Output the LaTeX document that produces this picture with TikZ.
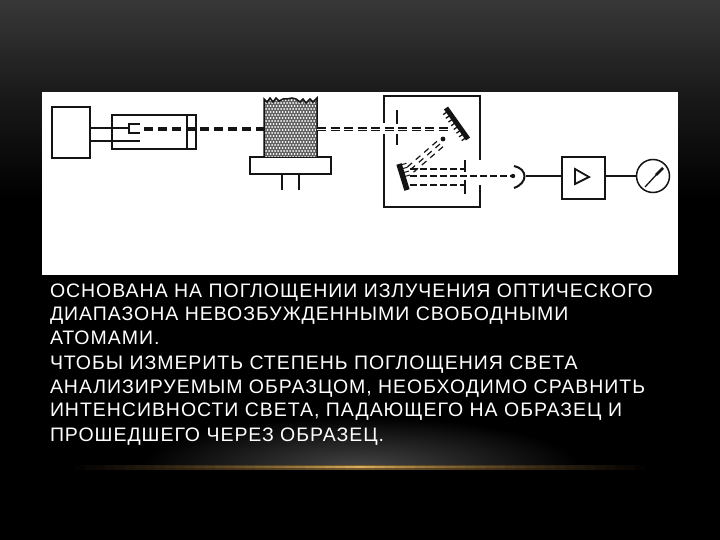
\documentclass[tikz,border=0pt]{standalone}
\usepackage{fontspec}
\setmainfont{Liberation Sans}
\newfontfamily\slidefont[LetterSpace=5]{Liberation Sans}
\usetikzlibrary{calc}
\definecolor{ink}{HTML}{141414}
\definecolor{topgrey}{HTML}{383838}
\definecolor{midgrey}{HTML}{1A1A1A}
\definecolor{glowgrey}{HTML}{444444}
\definecolor{goldbright}{HTML}{D8B060}
\definecolor{goldsoft}{HTML}{7A5A2C}
\tikzset{
  x=1pt,y=-1pt,
  every node/.style={inner sep=0pt,outer sep=0pt},
  wire/.style={draw=ink,line width=1.4pt},
  unitbox/.style={draw=ink,line width=1.5pt,fill=white,anchor=north west},
  beamA/.style={draw=ink,line width=3.4pt,dash pattern=on 9pt off 5pt},
  beamB/.style={draw=ink,line width=3.8pt,dash pattern=on 9pt off 4.5pt},
  beamC/.style={draw=ink,line width=1.2pt,dash pattern=on 7pt off 3pt},
  slitbar/.style={draw=ink,line width=1.8pt},
  txt/.style={anchor=base west,text=white,font=\slidefont\fontsize{19.5}{22}\selectfont},
}
\begin{document}
\begin{tikzpicture}
\useasboundingbox (0,0) rectangle (720,540);
% background
\fill[black] (0,0) rectangle (720,540);
\shade[top color=topgrey,bottom color=midgrey] (0,0) rectangle (720,92);
\shade[top color=midgrey,bottom color=black] (0,92) rectangle (720,200);
\begin{scope}
\clip (0,400) rectangle (720,466);
\shade[inner color=glowgrey,outer color=black] (360,467) ellipse (220 and 50);
\end{scope}
% gold line: solid-colour segments, strength falling away from the middle
\foreach \i in {-29,...,29}{
  \pgfmathsetmacro{\fa}{round(100*max(0,1-abs(\i)/29))}
  \pgfmathsetmacro{\fb}{round(100*max(0,1-abs(\i)/25))}
  \fill[goldsoft!\fa!black] ({360+\i*10-5.2},464.5) rectangle ({360+\i*10+5.2},469.5);
  \fill[goldbright!\fb!goldsoft!\fa!black] ({360+\i*10-5.2},466) rectangle ({360+\i*10+5.2},468.2);
}
% white panel
\fill[white] (42,92) rectangle (678,275);
% units
\node[unitbox,minimum width=38pt,minimum height=51pt] (source) at (52,107) {};
\node[unitbox,minimum width=84pt,minimum height=34pt] (lamp) at (112,115) {};
\node[unitbox,minimum width=81pt,minimum height=17pt] (burner) at (250,157) {};
\node[unitbox,minimum width=43pt,minimum height=42pt] (amp) at (562,157) {};
\node[draw=ink,line width=1.5pt,circle,minimum size=33pt,fill=white] (meter) at (653,176) {};
% lamp details
\draw[ink,line width=2pt] (187,115) -- (187,149);
\draw[ink,line width=1.8pt] (140,124) -- (129,124) -- (129,133) -- (140,133);
\coordinate (cathode) at (129,128);
\coordinate (anode) at (140,141);
\coordinate (srcA) at (90,128);
\coordinate (srcB) at (90,141);
\draw[wire] (srcA) -- (cathode);
\draw[wire] (srcB) -- (anode);
% flame
\coordinate (flameL) at (263.5,129);
\coordinate (flameR) at (317,129);
\begin{scope}
\clip (264,99) -- (267,102) -- (270,98) -- (273,102) -- (276,98) -- (279,101) -- (283,99) -- (287,99) -- (292,98) -- (296,99) -- (300,102) -- (303,99) -- (306,103) -- (310,99) -- (313,102) -- (317,98) -- (317,157) -- (264,157) -- cycle;
\fill[black!62] (263,96) rectangle (318,158);
\foreach \r in {0,...,20}{
  \foreach \c in {0,...,18}{
    \fill[white] ({263+\c*3+mod(\r,2)*1.5},{97+\r*3}) circle (1pt);
  }
}
\end{scope}
\draw[ink,line width=1.5pt] (264,157) -- (264,99) -- (267,102) -- (270,98) -- (273,102) -- (276,98) -- (279,101) -- (283,99) -- (287,99) -- (292,98) -- (296,99) -- (300,102) -- (303,99) -- (306,103) -- (310,99) -- (313,102) -- (317,98) -- (317,157);
% burner stem
\coordinate (stemA) at (282,174);
\coordinate (stemB) at (299,174);
\draw[wire] (stemA) -- ++(0,16);
\draw[wire] (stemB) -- ++(0,16);
% beam from lamp to flame
\draw[beamA] (144,129) -- (flameL);
% monochromator
\coordinate (monoNW) at (384,96);
\coordinate (monoSE) at (480,207);
\draw[ink,line width=1.6pt] (384,123) -- (monoNW) -- (480,96) -- (480,160);
\draw[ink,line width=1.6pt] (384,134) -- (384,207) -- (monoSE) -- (480,185);
% entrance slit
\draw[slitbar] (397,110) -- (397,124);
\draw[slitbar] (397,134) -- (397,145);
% grating and mirror
\coordinate (grA) at (446,108);
\coordinate (grB) at (468,139);
\draw[ink,line width=5pt] (grA) -- (grB);
\foreach \t in {0.1,0.22,...,1.0}{
  \draw[ink,line width=1.3pt] ($(grA)!\t!(grB)$) -- ++(-5,3.5);
}
\coordinate (miA) at (399,164);
\coordinate (miB) at (407,190);
\draw[ink,line width=5.5pt] (miA) -- (miB);
\foreach \t in {0.05,0.2,0.35,0.5}{
  \draw[ink,line width=1pt] ($(miA)!\t!(miB)$) -- ++(7,-2);
}
% input beam
\draw[beamB] (flameR) -- (448,129);
\draw[white,line width=.7pt] (flameR) -- (448,129);
% dispersed rays
\foreach \o in {-3,0,3}{
  \draw[ink,line width=1.2pt,dash pattern=on 6pt off 5pt] ($(440,144)+(\o,\o*.9)$) -- ($(410,170)+(\o,\o*.9)$);
}
\fill[ink] (443,139) circle (2.4pt);
% exit slit
\draw[slitbar] (465,160) -- (465,172);
\draw[slitbar] (465,180) -- (465,194);
% exit rays
\draw[beamC] (410,169) -- (465,169);
\draw[beamC] (410,185) -- (465,185);
\coordinate (detDot) at (513,176);
\draw[beamC] (410,176) -- (detDot);
% detector
\fill[ink] (detDot) circle (2.2pt);
\draw[ink,line width=2pt] (514,166) .. controls (528,169) and (528,183) .. (514,188);
\coordinate (detOut) at (526,176);
\draw[wire] (detOut) -- (amp.west |- detOut);
\draw[wire] (amp.east |- meter) -- (meter.west);
\draw[ink,line width=1.8pt] (575,169) -- (575,184) -- (589,177) -- cycle;
% needle
\draw[ink,line width=1.3pt] (645,187) -- (657,174);
\draw[ink,line width=2.6pt] (656,175) -- (663,168);
% text
\node[txt] (l1) at (50,297) {ОСНОВАНА НА ПОГЛОЩЕНИИ ИЗЛУЧЕНИЯ ОПТИЧЕСКОГО};
\node[txt] (l2) at (50,320.5) {ДИАПАЗОНА НЕВОЗБУЖДЕННЫМИ СВОБОДНЫМИ};
\node[txt] (l3) at (50,344) {АТОМАМИ.};
\node[txt] (l4) at (50,369) {ЧТОБЫ ИЗМЕРИТЬ СТЕПЕНЬ ПОГЛОЩЕНИЯ СВЕТА};
\node[txt] (l5) at (50,393) {АНАЛИЗИРУЕМЫМ ОБРАЗЦОМ, НЕОБХОДИМО СРАВНИТЬ};
\node[txt] (l6) at (50,416.5) {ИНТЕНСИВНОСТИ СВЕТА, ПАДАЮЩЕГО НА ОБРАЗЕЦ И};
\node[txt] (l7) at (50,441) {ПРОШЕДШЕГО ЧЕРЕЗ ОБРАЗЕЦ.};
\end{tikzpicture}
\end{document}
